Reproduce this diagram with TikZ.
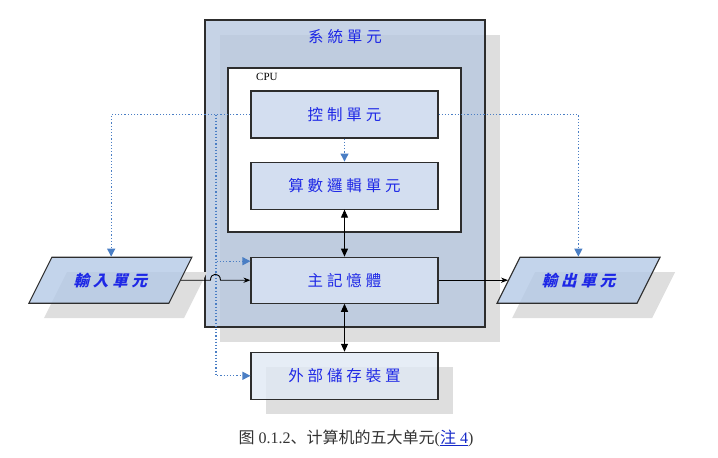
\documentclass[tikz,border=0pt]{standalone}
\usepackage{fontspec}
\setmainfont{Liberation Serif}
\newfontfamily\cjkfont[LetterSpace=25]{Noto Sans CJK TC}
\newfontfamily\cjkslant[LetterSpace=25,FakeSlant=0.25]{Noto Sans CJK TC}
\newfontfamily\capfont{Noto Sans CJK SC}
\usetikzlibrary{positioning,arrows.meta,shadows}
\definecolor{sysfill}{RGB}{184,200,224}
\definecolor{unitfill}{RGB}{211,222,240}
\definecolor{iofill}{RGB}{180,201,230}
\definecolor{shadowgray}{RGB}{222,222,222}
\definecolor{edgegray}{RGB}{45,45,45}
\definecolor{textblue}{RGB}{30,40,230}
\definecolor{sigblue}{RGB}{74,126,196}
\definecolor{linkblue}{RGB}{20,40,200}

\begin{document}
\begin{tikzpicture}[x=1pt,y=-1pt,>=Stealth,
  unit/.style={draw=edgegray,line width=1.1pt,fill=unitfill,minimum width=187pt,minimum height=47pt,inner sep=0pt,
    font=\cjkfont\fontsize{15.5}{18}\selectfont,text=textblue},
  iobox/.style={draw=edgegray,line width=1.1pt,fill=iofill,fill opacity=0.8,text opacity=1,xslant=0.5,
    minimum width=140pt,minimum height=46pt,inner sep=0pt,
    drop shadow={shadow xshift=15pt,shadow yshift=-15pt,fill=shadowgray,opacity=1}},
  iolabel/.style={font=\cjkslant\fontsize{15.5}{18}\selectfont\bfseries,text=textblue},
  sig/.style={draw=sigblue,dotted,line width=1.2pt,-{Triangle[width=8pt,length=8pt]}},
  flow/.style={draw=black,line width=0.9pt},
  bus/.style={draw=black,line width=0.9pt,{Triangle[width=7pt,length=8pt]}-{Triangle[width=7pt,length=8pt]}}]
  \useasboundingbox (0,0) rectangle (718,458);
  % system unit
  \node[draw=edgegray,line width=1.1pt,fill=sysfill,fill opacity=0.8,minimum width=280pt,minimum height=307pt,inner sep=0pt,
    drop shadow={shadow xshift=15pt,shadow yshift=-15pt,fill=shadowgray,opacity=1}] (sys) at (345,173.5) {};
  \node[font=\cjkfont\fontsize{15.5}{18}\selectfont,text=textblue,inner sep=0pt,below=10pt of sys.north] (systitle) {系統單元};
  \node[draw=edgegray,line width=1.1pt,fill=white,minimum width=233pt,minimum height=164pt,inner sep=0pt] (cpu) at (344.5,150) {};
  \node[anchor=west,font=\fontsize{11}{13}\selectfont,inner sep=0pt] (cpulabel) at (256,77) {CPU};
  % units
  \node[unit] (ctrl) at (344.5,114.5) {控制單元};
  \node[unit,below=23pt of ctrl] (alu) {算數邏輯單元};
  \node[unit,below=47pt of alu,minimum height=46pt] (mem) {主記憶體};
  \node[unit,below=48pt of mem,fill opacity=0.8,text opacity=1,fill=unitfill!70!white,
    drop shadow={shadow xshift=15pt,shadow yshift=-15pt,fill=shadowgray,opacity=1}] (ext) {外部儲存裝置};
  % input / output
  \node[iobox,left=69.5pt of mem] (in) {};
  \node[iolabel] (inlabel) at (in.center) {輸入單元};
  \node[iobox,right=69.5pt of mem] (out) {};
  \node[iolabel] (outlabel) at (out.center) {輸出單元};
  % data paths
  \draw[flow,->] (in.east) -- ++(29.5,0) .. controls +(0,-8) and +(0,-8) .. ++(10,0) -- (mem.west);
  \draw[flow,->] (mem.east) -- (out.west);
  \draw[bus] (alu) -- (mem);
  \draw[bus] (mem) -- (ext);
  % control signals
  \coordinate (busline) at (216,114.5);
  \draw[sig] (ctrl.south) -- (alu.north);
  \draw[sig] (ctrl.west) -| ([xshift=-11pt]in.north);
  \draw[sig] (ctrl.east) -| ([xshift=-12pt]out.north);
  \draw[sig] (busline) |- ([yshift=19pt]mem.west);
  \draw[sig] (busline) |- (ext.west);
  % caption
  \node[font=\fontsize{16}{19}\selectfont,text=black!80] (caption) at (356,438)
    {{\capfont 图} 0.1.2{\capfont 、计算机的五大单元}(\textcolor{linkblue}{\underline{{\capfont 注} 4}})};
\end{tikzpicture}
\end{document}
